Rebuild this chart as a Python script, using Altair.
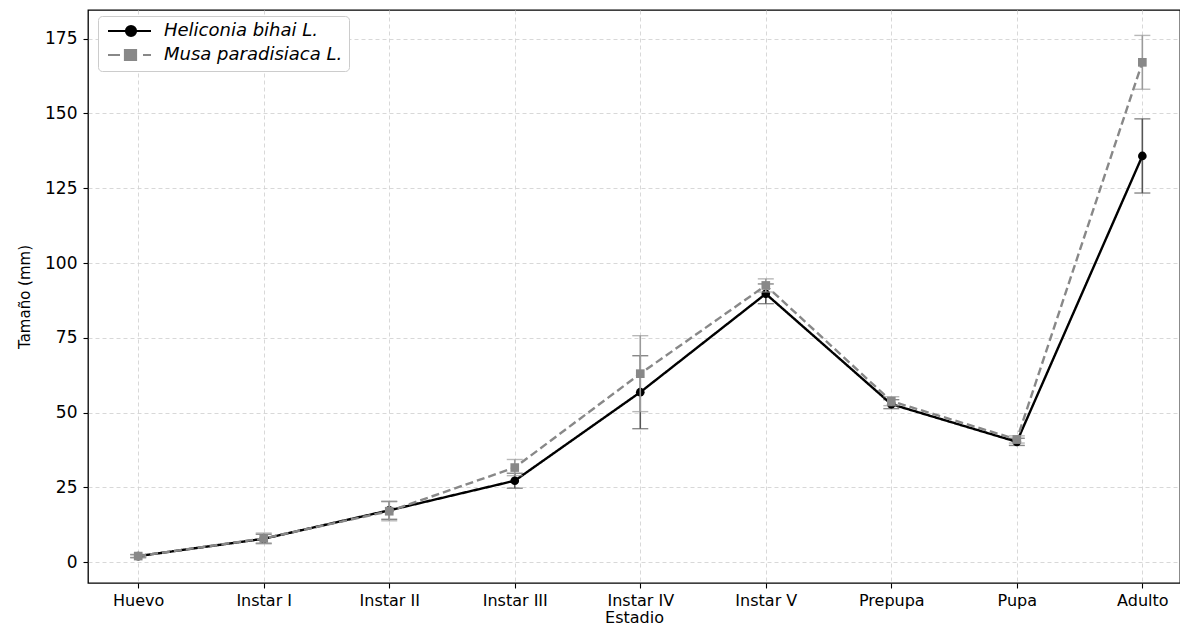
import altair as alt
import pandas as pd

stages = ["Huevo", "Instar I", "Instar II", "Instar III", "Instar IV",
          "Instar V", "Prepupa", "Pupa", "Adulto"]
series_names = ["Heliconia bihai L.", "Musa paradisiaca L."]

heliconia_mean = [2.0, 7.8, 17.3, 27.2, 56.8, 89.7, 52.8, 40.2, 135.8]
heliconia_err = [0.5, 1.5, 3.0, 2.5, 12.2, 3.3, 1.5, 1.2, 12.4]
musa_mean = [2.0, 7.9, 17.0, 31.6, 63.0, 92.5, 53.8, 41.0, 167.1]
musa_err = [0.5, 1.8, 3.2, 2.7, 12.7, 2.2, 1.5, 1.2, 9.0]

rows = []
for name, means, errs in [(series_names[0], heliconia_mean, heliconia_err),
                          (series_names[1], musa_mean, musa_err)]:
    for i, (st, m, e) in enumerate(zip(stages, means, errs)):
        rows.append({"idx": i, "stage": st, "series": name,
                     "mean": m, "lo": m - e, "hi": m + e})
df = pd.DataFrame(rows)

label_expr = "[" + ",".join("'" + s + "'" for s in stages) + "][datum.value]"

x_enc = alt.X("idx:Q",
              scale=alt.Scale(domain=[-0.4, 8.3], nice=False, zero=False),
              axis=alt.Axis(values=list(range(len(stages))), labelExpr=label_expr,
                            title="Estadio", grid=True))
y_scale = alt.Scale(domain=[-7, 184.6], nice=False, zero=False)
y_axis = alt.Axis(values=[0, 25, 50, 75, 100, 125, 150, 175], title="Tamaño (mm)", grid=True)

base = alt.Chart(df)


def series_layers(name, color, err_color, dash, shape, size):
    d = base.transform_filter(alt.datum.series == name)
    rule = d.mark_rule(color=err_color, strokeWidth=1.6).encode(
        x=x_enc, y=alt.Y("lo:Q", scale=y_scale, axis=y_axis), y2="hi:Q")
    cap_lo = d.mark_tick(color=err_color, orient="horizontal", size=16, thickness=1.4).encode(
        x=x_enc, y=alt.Y("lo:Q", scale=y_scale, axis=y_axis))
    cap_hi = d.mark_tick(color=err_color, orient="horizontal", size=16, thickness=1.4).encode(
        x=x_enc, y=alt.Y("hi:Q", scale=y_scale, axis=y_axis))
    line = d.mark_line(color=color, strokeWidth=2.4, strokeDash=dash).encode(
        x=x_enc, y=alt.Y("mean:Q", scale=y_scale, axis=y_axis))
    pts = d.mark_point(filled=True, color=color, shape=shape, size=size, opacity=1).encode(
        x=x_enc, y=alt.Y("mean:Q", scale=y_scale, axis=y_axis))
    return [rule, cap_lo, cap_hi, line, pts]


hel = series_layers(series_names[0], "#000000", "#555555", [1, 0], "circle", 75)
mus = series_layers(series_names[1], "#888888", "#9a9a9a", [8, 4], "square", 75)

circle_path = "M-1,0H7.6M2.6,0A1,1,0,1,1,4.6,0A1,1,0,1,1,2.6,0Z"
square_path = "M-1,0H1.4M2.4,-1H4.6V1H2.4ZM6,0H7.6"

legend_layer = base.transform_filter("false").mark_point(filled=True, opacity=1, strokeWidth=2).encode(
    x=x_enc, y=alt.Y("mean:Q", scale=y_scale, axis=y_axis),
    color=alt.Color("series:N",
                    scale=alt.Scale(domain=series_names, range=["#000000", "#888888"]),
                    legend=alt.Legend(title=None, orient="none", legendX=10, legendY=6,
                                      symbolSize=100, labelOffset=42, labelLimit=400,
                                      labelFontStyle="italic", labelFontSize=18,
                                      labelFont="DejaVu Sans", labelColor="#000000",
                                      symbolStrokeWidth=2.2, symbolOpacity=1,
                                      strokeColor="#cccccc", fillColor="#ffffff",
                                      cornerRadius=4, padding=6, rowPadding=4)),
    stroke=alt.Stroke("series:N",
                      scale=alt.Scale(domain=series_names, range=["#000000", "#888888"]),
                      legend=alt.Legend(title=None, orient="none", legendX=10, legendY=6)),
    shape=alt.Shape("series:N",
                    scale=alt.Scale(domain=series_names, range=[circle_path, square_path]),
                    legend=alt.Legend(title=None, orient="none", legendX=10, legendY=6)),
)

chart = alt.layer(*hel, *mus, legend_layer).properties(
    width=1092, height=573,
    padding={"left": 88, "top": 10, "right": 0, "bottom": 42},
    autosize=alt.AutoSizeParams(type="none"),
).configure_view(
    stroke="#000000", strokeWidth=1.3
).configure_axis(
    domain=False,
    gridColor="#d4d4d4", gridDash=[4, 3], gridWidth=0.9,
    tickColor="#000000", tickSize=5, tickWidth=1.1,
    labelFont="DejaVu Sans", labelFontSize=17, labelColor="#000000",
    titleFont="DejaVu Sans", titleFontSize=16, titleColor="#000000", titleFontWeight="normal",
).configure_axisY(
    labelPadding=6, titleFontSize=15, titlePadding=12, labelFontSize=17,
).configure_axisX(
    labelPadding=4, titlePadding=1, labelFontSize=16, titleFontSize=16,
)

chart.save("out.html", embed_options={"renderer": "svg", "actions": False})
